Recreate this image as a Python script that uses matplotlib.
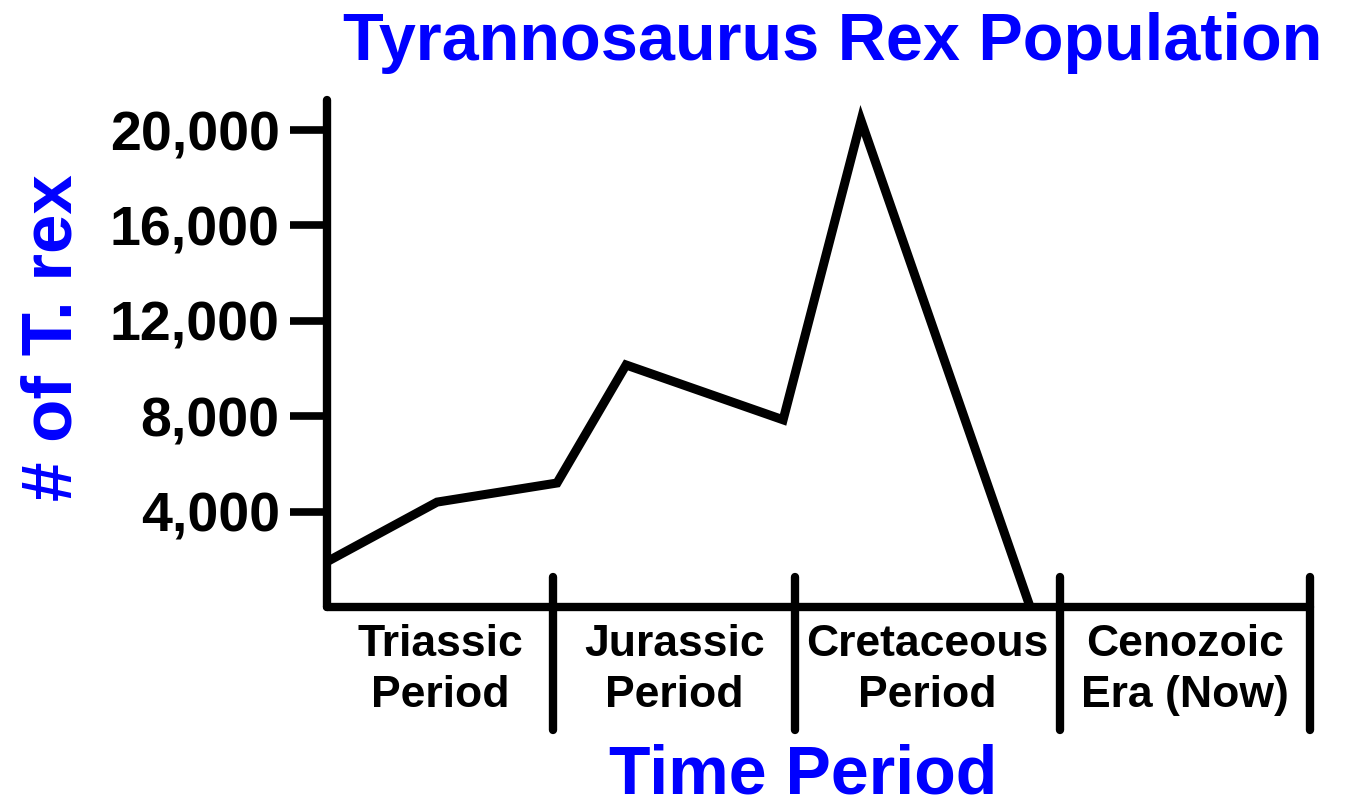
import matplotlib
matplotlib.use("Agg")
import matplotlib.pyplot as plt
from matplotlib.transforms import blended_transform_factory

# ---- data ----
title = "Tyrannosaurus Rex Population"
x_label = "Time Period"
y_label = "# of T. rex"
periods = ["Triassic\nPeriod", "Jurassic\nPeriod", "Cretaceous\nPeriod", "Cenozoic\nEra (Now)"]
period_edges = [0.0, 0.92, 1.905, 2.983, 4.0]          # boundaries of the periods (time units)
time_points = [0.0, 0.448, 0.936, 1.217, 1.856, 2.173, 2.861]
population = [1900, 4400, 5200, 10150, 7850, 20400, 0]
y_ticks = [4000, 8000, 12000, 16000, 20000]
y_tick_labels = ["4,000", "8,000", "12,000", "16,000", "20,000"]

BLUE = "#0000FF"
plt.rcParams['font.family'] = ['Liberation Sans', 'DejaVu Sans']

fig = plt.figure(figsize=(13.46, 8.11), dpi=100)
ax = fig.add_axes([0.2429, 0.2515, 0.7304, 0.6252])

ax.plot(time_points, population, color="black", lw=6.5,
        solid_joinstyle="miter", solid_capstyle="butt", clip_on=False, zorder=3)

ax.set_xlim(period_edges[0], period_edges[-1])
ax.set_ylim(0, 21260)

for s in ["top", "right"]:
    ax.spines[s].set_visible(False)
for s in ["left", "bottom"]:
    ax.spines[s].set_linewidth(6)
    ax.spines[s].set_capstyle("round")

ax.set_xticks([])
ax.set_yticks(y_ticks)
ax.set_yticklabels(y_tick_labels, fontsize=40, fontweight="bold")
ax.tick_params(axis="y", length=27, width=5.5, pad=7)

# period dividers
for e in period_edges[1:]:
    ax.plot([e, e], [1260, -5160], color="black", lw=6, solid_capstyle="round",
            clip_on=False, zorder=4)

# period labels
trans = blended_transform_factory(ax.transData, fig.transFigure)
for i, name in enumerate(periods):
    cx = (period_edges[i] + period_edges[i + 1]) / 2
    ax.text(cx, 1 - 624 / 811, name, transform=trans, ha="center", va="top",
            fontsize=32, fontweight="bold", linespacing=1.32)

fig.text(0.619, 1 - 43 / 811, title, ha="center", va="center",
         fontsize=48, fontweight="bold", color=BLUE)
fig.text(0.597, 1 - 775 / 811, x_label, ha="center", va="center",
         fontsize=49, fontweight="bold", color=BLUE)
fig.text(0.040, 1 - 338 / 811, y_label, ha="center", va="center", rotation=90,
         fontsize=51, fontweight="bold", color=BLUE)

fig.savefig("out.png", dpi=100)
